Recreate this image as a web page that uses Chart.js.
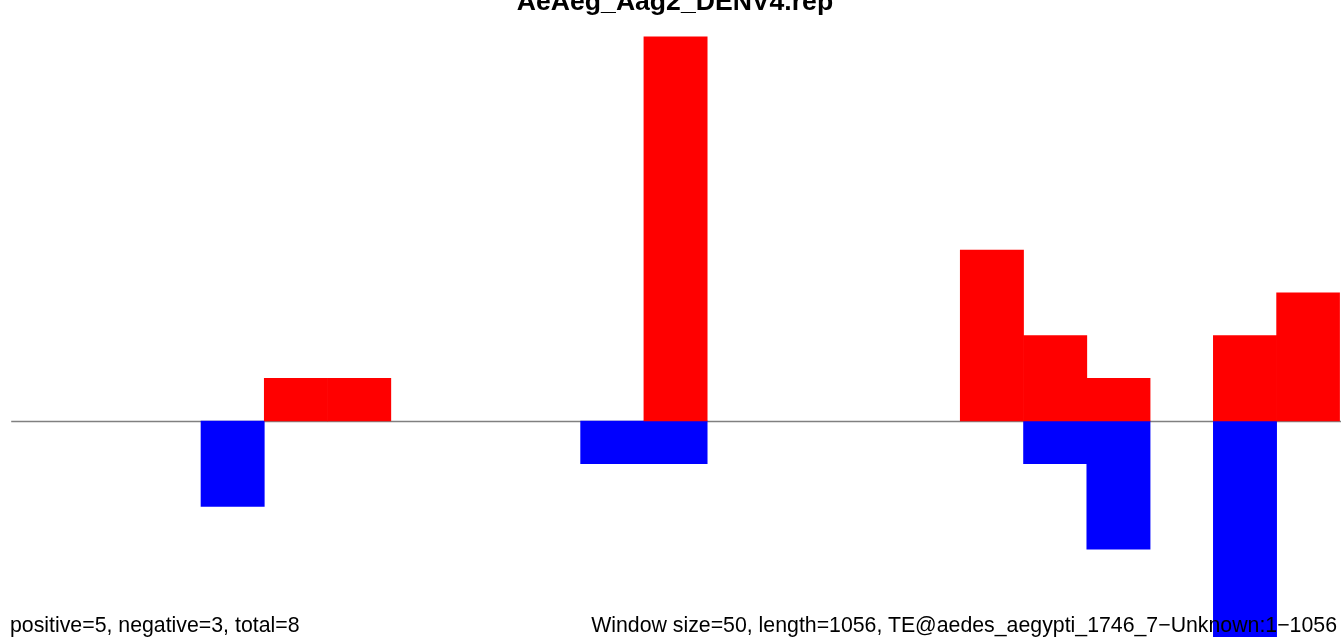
<!DOCTYPE html>
<html>
<head>
<meta charset="utf-8">
<script src="https://cdn.jsdelivr.net/npm/chart.js@4/dist/chart.umd.min.js"></script>
<style>
  html, body { margin: 0; padding: 0; background: #fff; overflow: hidden; }
  #wrap { position: relative; width: 1341px; height: 637px; overflow: hidden; }
  #grafico { position: absolute; left: 0; top: 0; }
  .txt { position: absolute; font-family: "Liberation Sans", Arial, sans-serif; color: #000; white-space: nowrap; line-height: 1; }
  #titulo { font-weight: bold; font-size: 26.6px; left: 675px; top: -12px; transform: translateX(-50%); }
  #pieIzq { font-size: 21.3px; left: 10px; top: 615px; }
  #pieDer { font-size: 21.3px; right: 4px; top: 615px; }
</style>
</head>
<body>
<div id="wrap">
  <canvas id="grafico" width="1341" height="637"></canvas>
  <div class="txt" id="titulo">AeAeg_Aag2_DENV4.rep</div>
  <div class="txt" id="pieIzq">positive=5, negative=3, total=8</div>
  <div class="txt" id="pieDer">Window size=50, length=1056, TE@aedes_aegypti_1746_7−Unknown:1−1056</div>
</div>
<script>
// ventanas de 50 pb a lo largo de 1056 pb (null = sin barra)
const ventanas = [0, 50, 100, 150, 200, 250, 300, 350, 400, 450, 500,
                  550, 600, 650, 700, 750, 800, 850, 900, 950, 1000];
const positivos = [null, null, null, null, 1, 1, null, null, null, null, 9,
                   null, null, null, null, 4, 2, 1, null, 2, 3];
const negativos = [null, null, null, -2, null, null, null, null, null, -1, -1,
                   null, null, null, null, null, -1, -3, null, -6, null];

// linea gris en cero, hasta el borde derecho
const lineaCero = {
  id: 'lineaCero',
  beforeDatasetsDraw(chart) {
    const ctx = chart.ctx;
    const y = Math.round(chart.scales.y.getPixelForValue(0)) + 0.5;
    ctx.save();
    ctx.strokeStyle = '#808080';
    ctx.lineWidth = 1.3;
    ctx.beginPath();
    ctx.moveTo(chart.chartArea.left, y);
    ctx.lineTo(chart.width, y);
    ctx.stroke();
    ctx.restore();
  }
};

new Chart(document.getElementById('grafico'), {
  type: 'bar',
  data: {
    labels: ventanas.map(String),
    datasets: [
      {
        label: 'positive',
        data: positivos,
        backgroundColor: '#ff0000',
        borderWidth: 0,
        categoryPercentage: 1,
        barPercentage: 1
      },
      {
        label: 'negative',
        data: negativos,
        backgroundColor: '#0000ff',
        borderWidth: 0,
        categoryPercentage: 1,
        barPercentage: 1
      }
    ]
  },
  options: {
    responsive: false,
    animation: false,
    layout: { padding: { left: 11.2, right: 1.1, top: 0, bottom: 0 } },
    scales: {
      x: { stacked: true, display: false },
      y: { stacked: true, display: false, min: -5.06, max: 9.86 }
    },
    plugins: {
      legend: { display: false },
      title: { display: false },
      tooltip: { enabled: false }
    }
  },
  plugins: [lineaCero]
});
</script>
</body>
</html>
